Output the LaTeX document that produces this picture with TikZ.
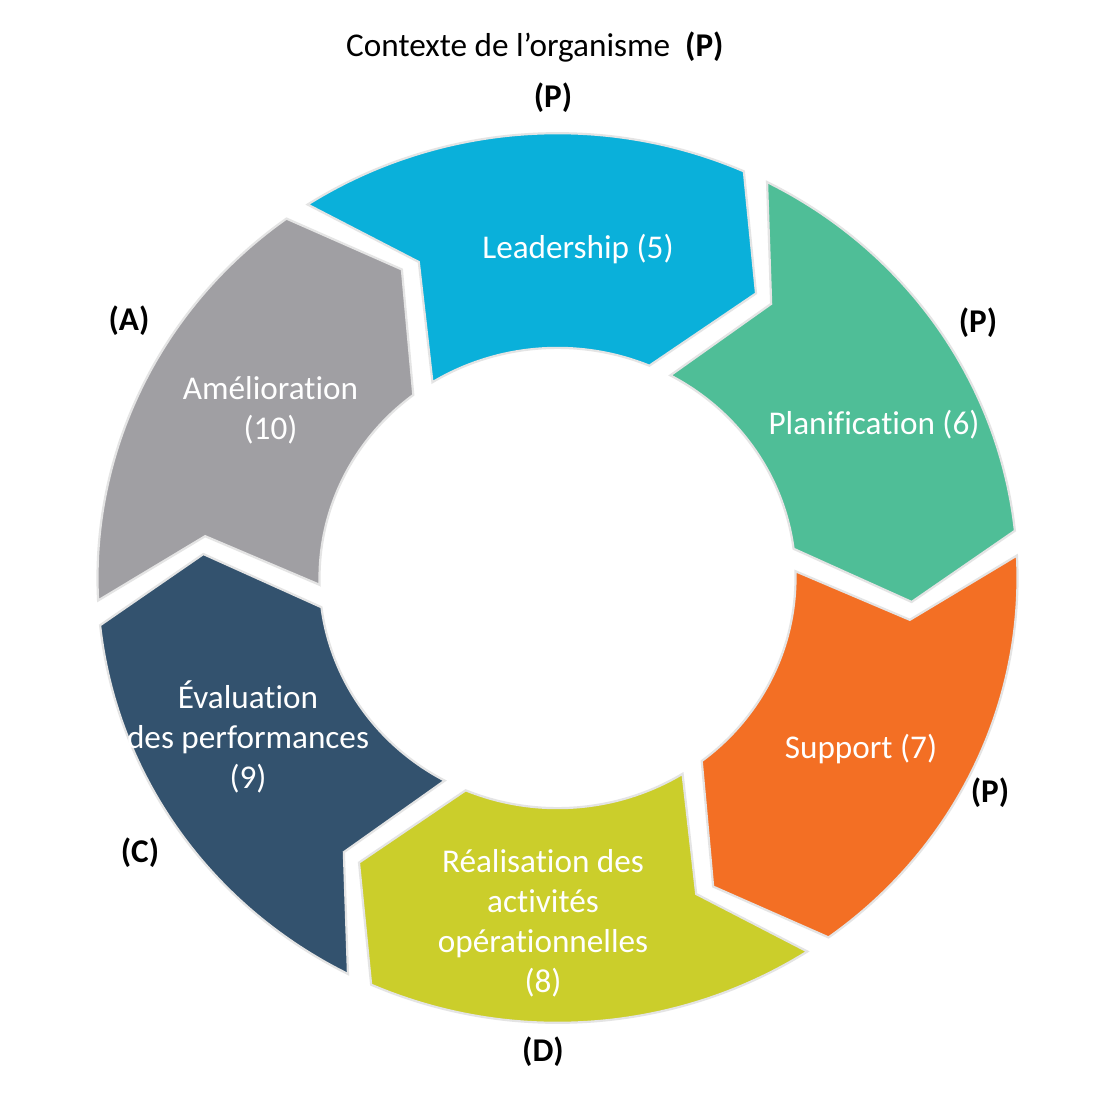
\documentclass[tikz,border=0pt]{standalone}
\usepackage{fontspec}
\setmainfont[Ligatures={NoCommon,NoRare,NoContextual}]{Carlito}
\definecolor{cBlue}{HTML}{0AB0DA}
\definecolor{cGreen}{HTML}{4FBE97}
\definecolor{cOrange}{HTML}{F36F24}
\definecolor{cYellow}{HTML}{CBCE2B}
\definecolor{cNavy}{HTML}{33526E}
\definecolor{cGray}{HTML}{A09FA3}
\definecolor{cGlow}{HTML}{E4E4E4}
\def\RingO{460}
\def\RingM{355}
\def\RingI{238}
\def\DelO{1.6}
\def\DelM{1.5}
\def\DelI{2.8}
\newcommand{\ringseg}[2]{%
  \pgfmathsetmacro{\segS}{#2}%
  \pgfmathsetmacro{\segE}{#2-60}%
  \path[segment, fill=#1]
    ({\segS-\DelO}:\RingO)
    arc[start angle={\segS-\DelO}, end angle={\segE+\DelO}, radius=\RingO]
    -- ({\segE-10+\DelM}:\RingM)
    -- ({\segE+\DelI}:\RingI)
    arc[start angle={\segE+\DelI}, end angle={\segS-\DelI}, radius=\RingI]
    -- ({\segS-10-\DelM}:\RingM)
    -- cycle;
}
\begin{document}
\begin{tikzpicture}[x=1pt,y=1pt,
  segment/.style={draw=cGlow, line width=2.2pt, line join=miter},
  inlabel/.style={text=white, font=\fontsize{33.2}{40}\selectfont, align=center, inner sep=0pt},
  outlabel/.style={text=black, font=\bfseries\fontsize{33.2}{40}\selectfont, inner sep=0pt, anchor=base},
  ]
\useasboundingbox[fill=white] (0,0) rectangle (1110,-1099);

\begin{scope}[shift={(557.5,-578)}, yscale=0.967]
  \ringseg{cBlue}{124.5}
  \ringseg{cGreen}{64.5}
  \ringseg{cOrange}{4.5}
  \ringseg{cYellow}{-55.5}
  \ringseg{cNavy}{-115.5}
  \ringseg{cGray}{-175.5}
\end{scope}

% labels inside the ring
\node[inlabel, anchor=base] (lead) at (578,-258.5) {Leadership (5)};
\node[inlabel, anchor=base] (plan) at (874,-434) {Planification (6)};
\node[inlabel, anchor=base] (supp) at (861,-758) {Support (7)};
\node[inlabel] (real) at (543,-923.5) {Réalisation des\\activités\\opérationnelles\\(8)};
\node[inlabel] (eval) at (248,-736.5) {Évaluation\\des performances\\(9)};
\node[inlabel] (amel) at (270.5,-410) {Amélioration\\(10)};

% labels outside the ring
\node[outlabel, anchor=base west, font=\fontsize{33.2}{40}\selectfont] (ctx) at (346,-57) {Contexte de l’organisme\hspace{15pt}\textbf{(P)}};
\node[outlabel] (pTop) at (553,-108) {(P)};
\node[outlabel] (pRight) at (978,-332) {(P)};
\node[outlabel] (pLow) at (990,-802) {(P)};
\node[outlabel] (aLab) at (129,-330) {(A)};
\node[outlabel] (cLab) at (140,-862) {(C)};
\node[outlabel] (dLab) at (543,-1061) {(D)};
\end{tikzpicture}
\end{document}
